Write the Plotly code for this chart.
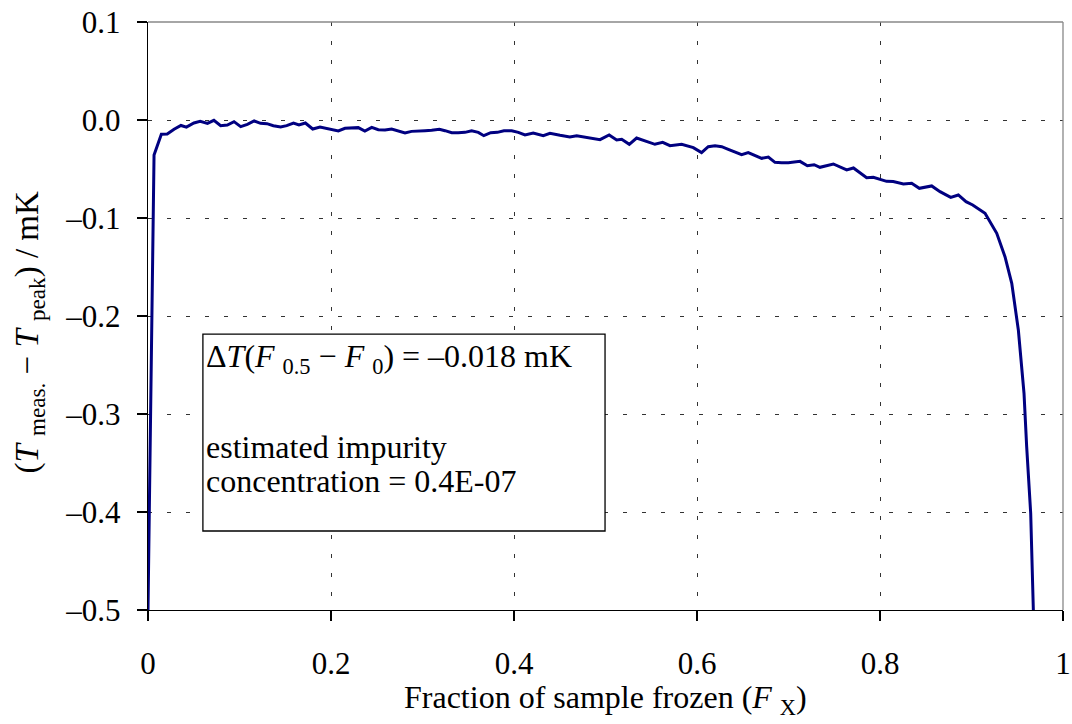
import plotly.graph_objects as go

# Fraction of sample frozen
frac_frozen = [
    0, 0.0066, 0.0146, 0.021, 0.0285, 0.036, 0.042, 0.0502, 0.057, 0.065,
    0.072, 0.0794, 0.0867, 0.094, 0.1013, 0.1086, 0.116, 0.123, 0.13, 0.137,
    0.145, 0.1516, 0.159, 0.165, 0.172, 0.18, 0.188, 0.195, 0.2025, 0.208,
    0.2153, 0.2226, 0.2298, 0.237, 0.2445, 0.2517, 0.259, 0.2663, 0.2736, 0.2809,
    0.288, 0.2955, 0.3027, 0.31, 0.3185, 0.3246, 0.332, 0.339, 0.3464, 0.3537,
    0.361, 0.367, 0.3745, 0.3818, 0.389, 0.3975, 0.4047, 0.412, 0.421, 0.432,
    0.4393, 0.4503, 0.461, 0.4685, 0.4794, 0.487, 0.494, 0.504, 0.5122, 0.5177,
    0.526, 0.534, 0.543, 0.554, 0.5625, 0.5705, 0.5832, 0.596, 0.605, 0.6123,
    0.6197, 0.627, 0.6342, 0.6415, 0.6488, 0.656, 0.6634, 0.6707, 0.678, 0.6852,
    0.6925, 0.6998, 0.7126, 0.7206, 0.728, 0.7344, 0.749, 0.7636, 0.771, 0.778,
    0.7854, 0.7927, 0.8, 0.8072, 0.8145, 0.8256, 0.8346, 0.843, 0.8565, 0.8656,
    0.8773, 0.8856, 0.894, 0.9013, 0.9148, 0.9276, 0.9366, 0.944, 0.9512, 0.9574,
    0.9603, 0.9647, 0.9676,
]

# T_meas - T_peak in mK
delta_t = [
    -0.5, -0.0357, -0.0146, -0.0143, -0.0095, -0.0056, -0.0073, -0.003, -0.0014, -0.0034,
    -0.0003, -0.0058, -0.0051, -0.0017, -0.0068, -0.0044, -0.001, -0.0034, -0.0037, -0.0058,
    -0.0071, -0.0058, -0.0031, -0.0051, -0.0031, -0.0092, -0.0071, -0.0085, -0.0095, -0.0112,
    -0.0085, -0.0085, -0.0078, -0.0112, -0.0075, -0.0099, -0.0102, -0.0092, -0.0112, -0.0133,
    -0.0116, -0.0109, -0.0109, -0.0105, -0.0095, -0.0109, -0.0129, -0.0129, -0.0126, -0.0109,
    -0.0126, -0.016, -0.0129, -0.0126, -0.0109, -0.0109, -0.0126, -0.0153, -0.0133, -0.016,
    -0.0136, -0.0156, -0.0173, -0.016, -0.018, -0.019, -0.0201, -0.0153, -0.0204, -0.0197,
    -0.0248, -0.0184, -0.0211, -0.0248, -0.0228, -0.0262, -0.0248, -0.0282, -0.0333, -0.0272,
    -0.0262, -0.0272, -0.0299, -0.033, -0.0354, -0.0333, -0.0364, -0.0391, -0.0378, -0.0432,
    -0.0435, -0.0435, -0.0422, -0.0466, -0.0456, -0.0483, -0.0449, -0.051, -0.049, -0.0537,
    -0.0589, -0.0585, -0.0602, -0.0626, -0.0628, -0.0653, -0.0646, -0.0697, -0.0673, -0.0731,
    -0.0789, -0.0765, -0.0833, -0.0867, -0.0952, -0.1156, -0.1395, -0.1667, -0.2143, -0.2789,
    -0.3333, -0.4014, -0.5,
]

x_tickvals = [0, 0.2, 0.4, 0.6, 0.8, 1]
x_ticktext = ["0", "0.2", "0.4", "0.6", "0.8", "1"]
y_tickvals = [0.1, 0.0, -0.1, -0.2, -0.3, -0.4, -0.5]
y_ticktext = ["0.1", "0.0", "\u20130.1", "\u20130.2", "\u20130.3", "\u20130.4", "\u20130.5"]

FONT = "Liberation Serif, Times New Roman, serif"
FS_TICK = 31
FS_TEXT = 32

fig = go.Figure()
fig.add_trace(go.Scatter(
    x=frac_frozen, y=delta_t, mode="lines",
    line=dict(color="#000080", width=3),
    showlegend=False, hoverinfo="skip",
))

tick_font = dict(family=FONT, size=FS_TICK, color="black")
text_font = dict(family=FONT, size=FS_TEXT, color="black")

fig.update_xaxes(
    range=[0, 1], tickmode="array", tickvals=x_tickvals, ticktext=x_ticktext,
    tickfont=tick_font, ticklabelstandoff=15, ticklabeloverflow="allow",
    showline=True, linecolor="black", linewidth=1.3,
    ticks="outside", ticklen=10, tickcolor="black", tickwidth=1.3,
    showgrid=True, gridcolor="#333333", gridwidth=1, griddash="4px,15px",
    zeroline=False, automargin=False,
)
fig.update_yaxes(
    range=[-0.5, 0.1], tickmode="array", tickvals=y_tickvals, ticktext=y_ticktext,
    tickfont=tick_font, ticklabelstandoff=10, ticklabeloverflow="allow",
    showline=True, linecolor="black", linewidth=1.3,
    ticks="outside", ticklen=10, tickcolor="black", tickwidth=1.3,
    showgrid=True, gridcolor="#333333", gridwidth=1, griddash="4px,15px",
    zeroline=False, automargin=False,
)

# axis titles
fig.add_annotation(
    xref="paper", yref="paper", x=0.2776, y=-0.153, xanchor="left", yanchor="middle",
    text="Fraction of sample frozen (<i>F</i> <sub>X</sub>)",
    showarrow=False, font=text_font,
)
fig.add_annotation(
    xref="paper", yref="paper", x=-0.130, y=0.472, xanchor="center", yanchor="middle",
    textangle=-90,
    text="(<i>T</i> <sub>meas.</sub> \u2212 <i>T</i> <sub>peak</sub>) / mK",
    showarrow=False, font=dict(family=FONT, size=33, color="black"),
)

# plot-area border (top/right in grey)
fig.add_shape(type="line", xref="paper", yref="paper", x0=0, x1=1, y0=1, y1=1,
              line=dict(color="#888888", width=1.3))
fig.add_shape(type="line", xref="paper", yref="paper", x0=1, x1=1, y0=0, y1=1,
              line=dict(color="#888888", width=1.3))

# text box
fig.add_shape(type="rect", xref="x", yref="y", x0=0.060, x1=0.4995, y0=-0.4194, y1=-0.2184,
              line=dict(color="black", width=1.3), fillcolor="white", layer="above")
fig.add_annotation(
    xref="x", yref="y", x=0.061, y=-0.2435, xanchor="left", yanchor="middle",
    text="\u0394<i>T</i>(<i>F</i> <sub>0.5</sub> \u2212 <i>F</i> <sub>0</sub>) = \u20130.018 mK",
    showarrow=False, align="left", font=text_font,
)
fig.add_annotation(
    xref="x", yref="y", x=0.061, y=-0.3335, xanchor="left", yanchor="middle",
    text="estimated impurity", showarrow=False, align="left", font=text_font,
)
fig.add_annotation(
    xref="x", yref="y", x=0.061, y=-0.3685, xanchor="left", yanchor="middle",
    text="concentration = 0.4E-07", showarrow=False, align="left", font=text_font,
)

fig.update_layout(
    width=1072, height=724,
    margin=dict(l=148, r=9, t=22, b=114, autoexpand=False),
    paper_bgcolor="white", plot_bgcolor="white",
    font=dict(family=FONT, size=FS_TEXT, color="black"),
)

fig.write_html(
    "out.html",
    config={"displayModeBar": False, "staticPlot": True},
    post_script="document.body.style.margin='0';document.body.style.overflow='hidden';",
)
